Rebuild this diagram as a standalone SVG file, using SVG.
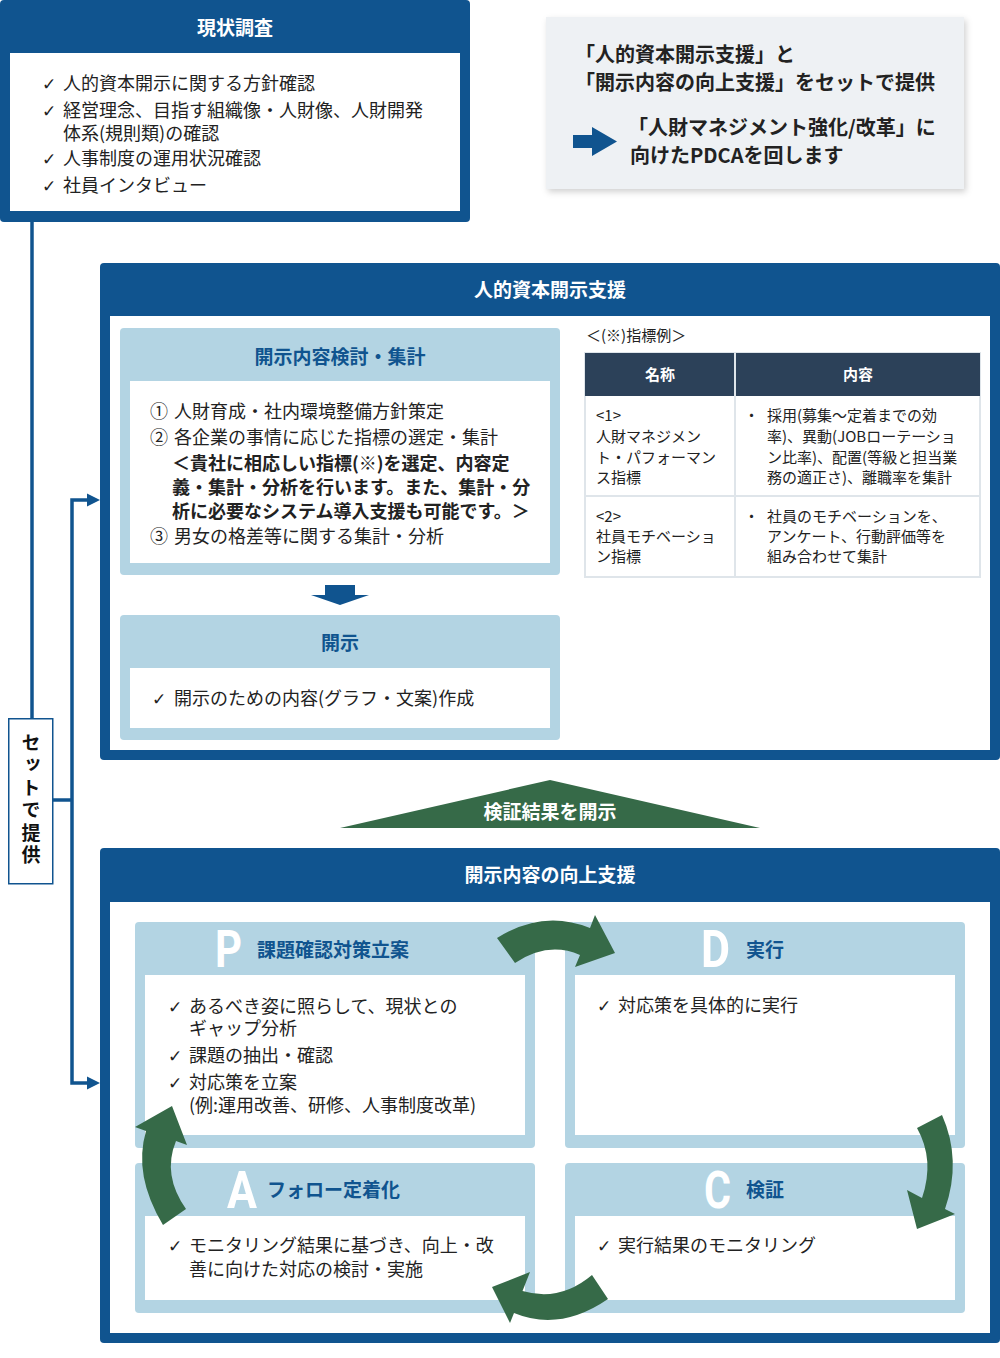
<svg xmlns="http://www.w3.org/2000/svg" width="1000" height="1358" viewBox="0 0 1000 1358">
<defs>
<style>
text{font-family:"Noto Sans CJK JP","Noto Sans",sans-serif}
.b{fill:#10548f}
.lb{fill:#b3d4e3}
.w{fill:#fff}
.body{font-size:18px;fill:#222}
.bd{font-weight:700}
.hd{font-size:19px;font-weight:700;fill:#fff;text-anchor:middle}
.sub{font-size:19px;font-weight:700;fill:#10548f}
.tbl{font-size:15px;fill:#222}
.chk{font-family:"DejaVu Sans",sans-serif;font-size:17px;fill:#222}
.ltr{font-family:"Roboto","Open Sans",sans-serif;font-weight:700;font-size:52px;fill:#fff}
.g{fill:#366a48}
.conn{stroke:#10548f;stroke-width:3.5;fill:none}
.ah{fill:#10548f}
</style>
<filter id="sh" x="-5%" y="-5%" width="115%" height="125%"><feDropShadow dx="2" dy="3" stdDeviation="3" flood-color="#000" flood-opacity="0.18"/></filter>
</defs>
<rect width="1000" height="1358" fill="#fff"/>

<g id="connectors">
<line class="conn" x1="32" y1="220" x2="32" y2="718"/>
<line class="conn" x1="53" y1="800" x2="72" y2="800"/>
<polyline class="conn" points="89,500 72,500 72,1083 89,1083"/>
<polygon class="ah" points="87,493.5 100,500 87,506.5"/>
<polygon class="ah" points="87,1076.5 100,1083 87,1089.5"/>
</g>

<g id="genjo">
<rect x="0" y="0" width="470" height="222" rx="4" class="b"/>
<rect x="10" y="53" width="450" height="158" class="w"/>
<text x="235" y="35" class="hd">現状調査</text>
<text x="42" y="90" class="chk">✓</text>
<text x="63" y="90" class="body">人的資本開示に関する方針確認</text>
<text x="42" y="117" class="chk">✓</text>
<text x="63" y="117" class="body">経営理念、目指す組織像・人財像、人財開発</text>
<text x="63" y="140" class="body">体系(規則類)の確認</text>
<text x="42" y="165" class="chk">✓</text>
<text x="63" y="165" class="body">人事制度の運用状況確認</text>
<text x="42" y="192" class="chk">✓</text>
<text x="63" y="192" class="body">社員インタビュー</text>
</g>

<g id="summary">
<rect x="546" y="17" width="418" height="172" fill="#eef1f4" filter="url(#sh)"/>
<text x="575" y="62" class="bd" font-size="20" fill="#222">「人的資本開示支援」と</text>
<text x="575" y="90" class="bd" font-size="20" fill="#222">「開示内容の向上支援」をセットで提供</text>
<polygon points="573,135 592,135 592,127 617,141.5 592,156 592,148 573,148" class="b"/>
<text x="628" y="135" class="bd" font-size="20" fill="#222">「人財マネジメント強化/改革」に</text>
<text x="630" y="163" class="bd" font-size="20" fill="#222">向けたPDCAを回します</text>
</g>

<g id="set-box">
<rect x="8.75" y="718.75" width="44" height="165" fill="#fff" stroke="#10548f" stroke-width="1.5"/>
<text x="31" y="733" writing-mode="vertical-rl" font-size="19" font-weight="700" fill="#111" letter-spacing="3.5">セットで提供</text>
</g>

<g id="jinteki">
<rect x="100" y="263" width="900" height="497" rx="4" class="b"/>
<rect x="110" y="316" width="880" height="434" class="w"/>
<text x="550" y="297" class="hd">人的資本開示支援</text>
</g>

<g id="kento">
<rect x="120" y="328" width="440" height="247" rx="4" class="lb"/>
<rect x="130" y="381" width="420" height="182" class="w"/>
<text x="340" y="364" class="sub" text-anchor="middle">開示内容検討・集計</text>
<text x="150" y="418" class="body">①</text>
<text x="174" y="418" class="body">人財育成・社内環境整備方針策定</text>
<text x="150" y="444" class="body">②</text>
<text x="174" y="444" class="body">各企業の事情に応じた指標の選定・集計</text>
<text x="172" y="470" class="body bd">＜貴社に相応しい指標(※)を選定、内容定</text>
<text x="172" y="494" class="body bd">義・集計・分析を行います。また、集計・分</text>
<text x="172" y="518" class="body bd">析に必要なシステム導入支援も可能です。＞</text>
<text x="150" y="543" class="body">③</text>
<text x="174" y="543" class="body">男女の格差等に関する集計・分析</text>
</g>

<g id="down-arrow">
<polygon points="325,585 355,585 355,595 369,595 340,605 311,595 325,595" class="b"/>
</g>

<g id="kaiji">
<rect x="120" y="615" width="440" height="125" rx="4" class="lb"/>
<rect x="130" y="668" width="420" height="60" class="w"/>
<text x="340" y="650" class="sub" text-anchor="middle">開示</text>
<text x="152" y="705" class="chk">✓</text>
<text x="174" y="705" class="body">開示のための内容(グラフ・文案)作成</text>
</g>

<g id="table">
<text x="586" y="341" class="tbl">＜(※)指標例＞</text>
<rect x="585" y="353" width="395" height="224" fill="#fff" stroke="#dfe5ea" stroke-width="2"/>
<rect x="585" y="353" width="395" height="43" fill="#2c4159"/>
<line x1="735" y1="353" x2="735" y2="577" stroke="#dfe5ea" stroke-width="2"/>
<line x1="585" y1="496" x2="980" y2="496" stroke="#dfe5ea" stroke-width="2"/>
<text x="660" y="380" class="tbl bd" style="fill:#fff" text-anchor="middle">名称</text>
<text x="858" y="380" class="tbl bd" style="fill:#fff" text-anchor="middle">内容</text>
<text x="596" y="421" class="tbl">&lt;1&gt;</text>
<text x="596" y="442" class="tbl">人財マネジメン</text>
<text x="596" y="463" class="tbl">ト・パフォーマン</text>
<text x="596" y="483" class="tbl">ス指標</text>
<text x="744" y="421" class="tbl">・</text>
<text x="767" y="421" class="tbl">採用(募集～定着までの効</text>
<text x="767" y="442" class="tbl">率)、異動(JOBローテーショ</text>
<text x="767" y="463" class="tbl">ン比率)、配置(等級と担当業</text>
<text x="767" y="483" class="tbl">務の適正さ)、離職率を集計</text>
<text x="596" y="522" class="tbl">&lt;2&gt;</text>
<text x="596" y="542" class="tbl">社員モチベーショ</text>
<text x="596" y="562" class="tbl">ン指標</text>
<text x="744" y="522" class="tbl">・</text>
<text x="767" y="522" class="tbl">社員のモチベーションを、</text>
<text x="767" y="542" class="tbl">アンケート、行動評価等を</text>
<text x="767" y="562" class="tbl">組み合わせて集計</text>
</g>

<g id="kensho-kaiji">
<polygon points="340,828 550,780 760,828" class="g"/>
<text x="550" y="819" class="hd">検証結果を開示</text>
</g>

<g id="kojo">
<rect x="100" y="848" width="900" height="495" rx="4" class="b"/>
<rect x="110" y="902" width="880" height="431" class="w"/>
<text x="550" y="882" class="hd">開示内容の向上支援</text>
</g>

<g id="P">
<rect x="135" y="922" width="400" height="226" rx="4" class="lb"/>
<rect x="145" y="975" width="380" height="160" class="w"/>
<text x="215" y="967" class="ltr" textLength="27" lengthAdjust="spacingAndGlyphs">P</text>
<text x="257" y="957" class="sub">課題確認対策立案</text>
<text x="168" y="1013" class="chk">✓</text>
<text x="189" y="1013" class="body">あるべき姿に照らして、現状との</text>
<text x="189" y="1035" class="body">ギャップ分析</text>
<text x="168" y="1062" class="chk">✓</text>
<text x="189" y="1062" class="body">課題の抽出・確認</text>
<text x="168" y="1089" class="chk">✓</text>
<text x="189" y="1089" class="body">対応策を立案</text>
<text x="189" y="1112" class="body">(例:運用改善、研修、人事制度改革)</text>
</g>

<g id="D">
<rect x="565" y="922" width="400" height="226" rx="4" class="lb"/>
<rect x="575" y="975" width="380" height="160" class="w"/>
<text x="701" y="967" class="ltr" textLength="29" lengthAdjust="spacingAndGlyphs">D</text>
<text x="746" y="957" class="sub">実行</text>
<text x="597" y="1012" class="chk">✓</text>
<text x="618" y="1012" class="body">対応策を具体的に実行</text>
</g>

<g id="A">
<rect x="135" y="1163" width="400" height="150" rx="4" class="lb"/>
<rect x="145" y="1216" width="380" height="84" class="w"/>
<text x="227" y="1208" class="ltr" textLength="30" lengthAdjust="spacingAndGlyphs">A</text>
<text x="267" y="1197" class="sub">フォロー定着化</text>
<text x="168" y="1252" class="chk">✓</text>
<text x="189" y="1252" class="body">モニタリング結果に基づき、向上・改</text>
<text x="189" y="1276" class="body">善に向けた対応の検討・実施</text>
</g>

<g id="C">
<rect x="565" y="1163" width="400" height="150" rx="4" class="lb"/>
<rect x="575" y="1216" width="380" height="84" class="w"/>
<text x="704" y="1208" class="ltr" textLength="27" lengthAdjust="spacingAndGlyphs">C</text>
<text x="746" y="1197" class="sub">検証</text>
<text x="597" y="1252" class="chk">✓</text>
<text x="618" y="1252" class="body">実行結果のモニタリング</text>
</g>

<g id="cycle-arrows">
<path class="g" d="M515,963 Q548,941 580,955 L575,967 L615,953 L595,915 L590,928 Q543,909 497,938 Z"/>
<path class="g" d="M917,1128 L942,1115 Q962,1160 945,1209 L955,1214 L917,1229 L907,1190 L922,1198 Q935,1160 917,1128 Z"/>
<path class="g" d="M592,1275 L608,1299 Q560,1332 514,1313 L510,1323 L492,1287 L530,1272 L522.5,1291 Q560,1302 592,1275 Z"/>
<path class="g" d="M163,1225 Q133,1175 146,1131 L135,1127 L172,1106 L187,1145 L176,1141 Q162,1175 186,1209 Z"/>
</g>
</svg>
